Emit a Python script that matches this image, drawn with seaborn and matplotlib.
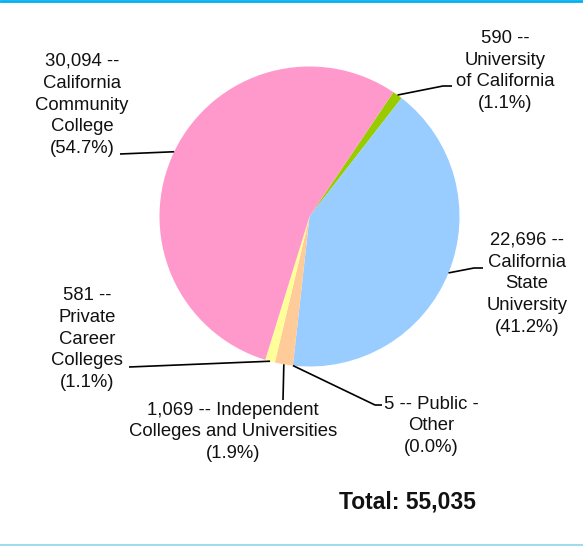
import numpy as np
import matplotlib.pyplot as plt
import seaborn as sns
from matplotlib.lines import Line2D

# data (clockwise from the top)
segments = ['University of California', 'California State University', 'Public - Other',
            'Independent Colleges and Universities', 'Private Career Colleges',
            'California Community College']
counts = [590, 22696, 5, 1069, 581, 30094]
label_names = ['University\nof California', 'California\nState\nUniversity', 'Public -\nOther',
               'Independent\nColleges and Universities', 'Private\nCareer\nColleges',
               'California\nCommunity\nCollege']
label_seps = ['\n', '\n', ' ', ' ', '\n', '\n']
colors = ['#99CC00', '#99CCFF', '#FF8080', '#FFCC99', '#FFFF99', '#FF99CC']

sns.set_style('white')
plt.rcParams['font.family'] = ['Liberation Sans', 'DejaVu Sans']

W, H = 583, 546
CX, CY, R = 309.5, 216.5, 150.0


def px(x, y):
    # pixel position -> data coords (pie centred at 0,0 with radius 1)
    return (x - CX) / R, (CY - y) / R


fig = plt.figure(figsize=(W / 100, H / 100), dpi=100)
ax = fig.add_axes([0, 0, 1, 1])

wedges, _ = ax.pie(counts, colors=colors, startangle=56, counterclock=False,
                   radius=1, wedgeprops=dict(linewidth=0))
ax.set_xlim(-CX / R, (W - CX) / R)
ax.set_ylim((CY - H) / R, CY / R)
ax.axis('off')

total = sum(counts)

# label positions (centre, pixels) and leader elbows (pixels)
label_pos = [(505, 71), (527, 284), (431, 426), (233, 432), (87, 339), (82, 105)]
leaders = [[(443, 86), (452, 86)],
           [(474, 268), (483, 268)],
           [(375, 405), (382, 405)],
           [(283, 400)],
           [(129, 367)],
           [(120, 154)]]

for w, n, name, sep, pos, elbow in zip(wedges, counts, label_names, label_seps,
                                       label_pos, leaders):
    pct = n / total * 100
    txt = f'{n:,} --{sep}{name}\n({pct:.1f}%)'
    x, y = px(*pos)
    ax.text(x, y, txt, ha='center', va='center', multialignment='center',
            fontsize=13.3, linespacing=1.38, color='#111111')
    ang = np.deg2rad((w.theta1 + w.theta2) / 2)
    pts = [(np.cos(ang), np.sin(ang))] + [px(*p) for p in elbow]
    ax.plot([p[0] for p in pts], [p[1] for p in pts], color='black', lw=1.2,
            solid_capstyle='butt')

tx, ty = px(407, 502)
ax.text(tx, ty, f'Total: {total:,}', ha='center', va='center',
        fontsize=16.5, fontweight='bold', color='#111111')

# thin frame lines at top and bottom
fig.add_artist(Line2D([0, 1], [1 - 1 / H, 1 - 1 / H], transform=fig.transFigure,
                      color='#00B0F0', lw=2))
fig.add_artist(Line2D([0, 1], [1.5 / H, 1.5 / H], transform=fig.transFigure,
                      color='#9FDCEC', lw=1.5))

fig.savefig('out.png', dpi=100)
